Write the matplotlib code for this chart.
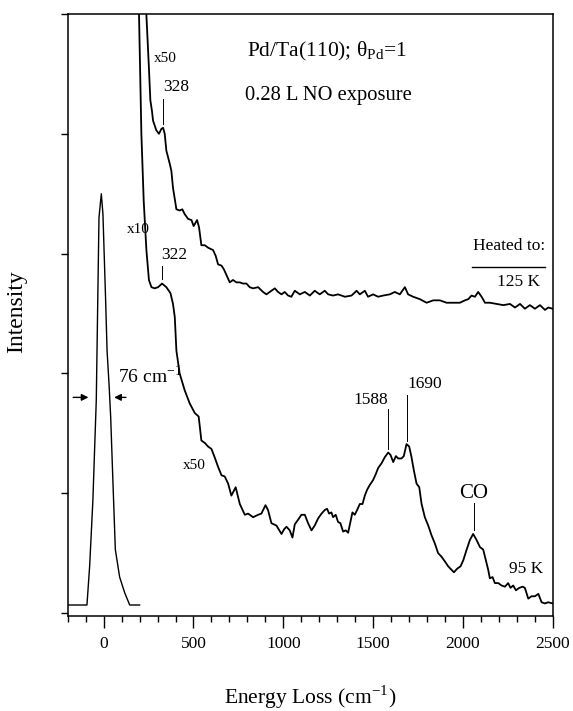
import matplotlib
matplotlib.use('Agg')
import matplotlib.pyplot as plt

plt.rcParams['font.family'] = ['Liberation Serif', 'DejaVu Serif']
plt.rcParams['mathtext.fontset'] = 'stix'

# elastic peak
elastic_x = [-200, -93, -78, -60, -41, -26, -13, -4, 11, 19, 30, 39, 52, 65, 89, 117, 145, 200]
elastic_y = [0.067, 0.067, 0.39, 0.94, 1.78, 3.30, 3.50, 3.33, 2.61, 2.19, 1.91, 1.64, 1.08, 0.53, 0.30, 0.17, 0.067, 0.067]

# 95 K spectrum (x10 then x50)
k95_x = [190, 197, 210, 223, 238, 252, 266, 284, 303, 325, 349, 372, 386, 396, 405, 423, 451, 479, 507, 529,
         544, 563, 581, 600, 618, 637, 656, 674, 693, 711, 735, 748, 758, 786, 804, 832, 860, 878, 901, 915,
         934, 962, 990, 1005, 1018, 1036, 1051, 1064, 1083, 1101, 1120, 1138, 1157, 1175, 1194, 1213, 1231,
         1244, 1255, 1268, 1277, 1292, 1305, 1318, 1333, 1348, 1361, 1374, 1385, 1398, 1411, 1426, 1441, 1454,
         1467, 1482, 1500, 1515, 1528, 1547, 1565, 1584, 1597, 1612, 1627, 1640, 1658, 1671, 1686, 1701, 1714,
         1727, 1742, 1757, 1770, 1788, 1807, 1825, 1844, 1862, 1881, 1900, 1918, 1937, 1950, 1968, 1987, 2002,
         2021, 2039, 2057, 2076, 2095, 2113, 2128, 2141, 2150, 2165, 2178, 2197, 2215, 2234, 2252, 2265, 2280,
         2295, 2314, 2333, 2345, 2364, 2382, 2401, 2420, 2438, 2457, 2475, 2500]
k95_y = [5.5, 4.99, 4.0, 3.44, 3.03, 2.78, 2.72, 2.71, 2.72, 2.75, 2.72, 2.67, 2.58, 2.47, 2.19, 2.0, 1.86, 1.75, 1.67, 1.64,
         1.44, 1.42, 1.39, 1.37, 1.30, 1.22, 1.15, 1.14, 1.08, 0.98, 1.05, 0.97, 0.91, 0.82, 0.83, 0.80, 0.82, 0.83, 0.90, 0.86,
         0.75, 0.73, 0.66, 0.70, 0.72, 0.69, 0.63, 0.74, 0.78, 0.82, 0.82, 0.75, 0.69, 0.73, 0.79, 0.83, 0.86,
         0.87, 0.83, 0.84, 0.80, 0.82, 0.76, 0.75, 0.68, 0.69, 0.67, 0.76, 0.84, 0.82, 0.86, 0.91, 0.91, 0.98,
         1.03, 1.07, 1.11, 1.16, 1.21, 1.25, 1.30, 1.34, 1.32, 1.26, 1.31, 1.29, 1.29, 1.31, 1.41, 1.39, 1.30,
         1.19, 1.08, 1.05, 0.91, 0.80, 0.73, 0.65, 0.58, 0.50, 0.47, 0.43, 0.39, 0.36, 0.34, 0.37, 0.39, 0.44,
         0.53, 0.61, 0.66, 0.61, 0.55, 0.53, 0.44, 0.36, 0.29, 0.30, 0.25, 0.25, 0.23, 0.22, 0.25, 0.21, 0.23,
         0.19, 0.21, 0.22, 0.21, 0.12, 0.14, 0.14, 0.16, 0.09, 0.08, 0.09, 0.08]

# 125 K spectrum (x50)
k125_x = [232, 238, 252, 260, 269, 275, 293, 308, 321, 331, 340, 349, 368, 377, 386, 405, 423, 438, 451, 470,
          489, 501, 520, 531, 544, 563, 581, 594, 609, 624, 637, 656, 669, 684, 702, 720, 739, 758, 776, 795,
          813, 832, 860, 887, 906, 934, 953, 971, 990, 1008, 1027, 1045, 1064, 1092, 1120, 1148, 1175, 1203,
          1231, 1250, 1277, 1305, 1343, 1380, 1408, 1426, 1454, 1472, 1500, 1528, 1556, 1593, 1621, 1649, 1677,
          1695, 1723, 1760, 1798, 1835, 1872, 1909, 1946, 1983, 2011, 2030, 2048, 2067, 2085, 2104, 2123, 2150,
          2188, 2225, 2262, 2290, 2318, 2345, 2373, 2401, 2429, 2457, 2475, 2500]
k125_y = [5.5, 4.99, 4.55, 4.28, 4.19, 4.11, 4.03, 4.0, 4.04, 4.05, 4.0, 3.86, 3.75, 3.69, 3.55, 3.37, 3.36, 3.37, 3.33, 3.29,
          3.28, 3.23, 3.28, 3.22, 3.07, 3.07, 3.05, 3.04, 3.03, 2.98, 2.91, 2.90, 2.87, 2.82, 2.76, 2.78, 2.76, 2.76, 2.75, 2.75,
          2.72, 2.71, 2.72, 2.68, 2.66, 2.69, 2.71, 2.68, 2.66, 2.68, 2.65, 2.64, 2.69, 2.66, 2.68, 2.65, 2.69, 2.66,
          2.69, 2.66, 2.65, 2.66, 2.64, 2.65, 2.69, 2.66, 2.69, 2.64, 2.66, 2.64, 2.65, 2.66, 2.68, 2.66, 2.72,
          2.66, 2.64, 2.62, 2.59, 2.61, 2.61, 2.59, 2.59, 2.59, 2.61, 2.62, 2.65, 2.64, 2.68, 2.64, 2.59, 2.59,
          2.58, 2.57, 2.58, 2.55, 2.58, 2.54, 2.57, 2.54, 2.57, 2.53, 2.55, 2.54]

xticks = [0, 500, 1000, 1500, 2000, 2500]
yticks = [0, 1, 2, 3, 4, 5]

fig = plt.figure(figsize=(5.73, 7.11), dpi=100)
ax = fig.add_axes([0.1182, 0.134, 0.8464, 0.8463])

ax.plot(elastic_x, elastic_y, color='black', lw=1.0)
ax.plot(k95_x, k95_y, color='black', lw=1.3)
ax.plot(k125_x, k125_y, color='black', lw=1.3)

ax.set_xlim(-200, 2500)
ax.set_ylim(-0.0225, 5.0)
ax.set_xticks(xticks)
ax.set_xticks(range(-200, 2501, 100), minor=True)
ax.set_yticks(yticks)
ax.set_yticklabels([])
ax.tick_params(axis='x', which='major', direction='out', length=8.4, width=1, labelsize=12.5, pad=6)
ax.tick_params(axis='x', which='minor', direction='out', length=4.3, width=1)
ax.tick_params(axis='y', direction='out', length=4.8, width=1)
for s in ax.spines.values():
    s.set_linewidth(1.1)

ax.set_xlabel('Energy Loss (cm$^{\\mathregular{-1}}$)', fontsize=15.5, va='baseline')
ax.xaxis.set_label_coords(0.5, -0.146)
ax.set_ylabel('Intensity', fontsize=17)
ax.yaxis.set_label_coords(-0.084, 0.505)

ax.text(797, 4.69, 'Pd/Ta(110); θ$_{\\mathregular{Pd}}$=1', fontsize=15.5, va='center')
ax.text(787, 4.32, '0.28 L NO exposure', fontsize=14.8, va='center')

ax.text(282, 4.63, 'x50', fontsize=11, va='center')
ax.text(330, 4.39, '328', fontsize=12.5, va='center', ha='left')
ax.plot([330, 330], [4.29, 4.08], color='black', lw=0.7)
ax.text(256, 3.2, 'x10', fontsize=11, va='center', ha='right')
ax.text(323, 2.99, '322', fontsize=12.5, va='center', ha='left')
ax.plot([325, 325], [2.9, 2.79], color='black', lw=0.7)
ax.text(440, 1.23, 'x50', fontsize=11, va='center')

ax.text(78, 1.98, '76 cm$^{\\mathregular{-1}}$', fontsize=14, va='center')
ax.annotate('', xy=(-69, 1.8), xytext=(-185, 1.8),
            arrowprops=dict(arrowstyle='-|>', color='black', lw=1, mutation_scale=10))
ax.annotate('', xy=(43, 1.8), xytext=(140, 1.8),
            arrowprops=dict(arrowstyle='-|>', color='black', lw=1, mutation_scale=10))

ax.text(1582, 1.78, '1588', fontsize=12.5, va='center', ha='right')
ax.plot([1584, 1584], [1.70, 1.37], color='black', lw=0.7)
ax.text(1694, 1.91, '1690', fontsize=12.5, va='center', ha='left')
ax.plot([1686, 1686], [1.82, 1.44], color='black', lw=0.7)
ax.text(2061, 1.0, 'CO', fontsize=15, va='center', ha='center')
ax.plot([2061, 2061], [0.92, 0.69], color='black', lw=0.7)
ax.text(2354, 0.37, '95 K', fontsize=12.5, va='center', ha='center')

ax.text(2256, 3.06, 'Heated to:', fontsize=12.5, va='center', ha='center')
ax.plot([2048, 2457], [2.89, 2.89], color='black', lw=1)
ax.text(2309, 2.76, '125 K', fontsize=12.5, va='center', ha='center')

fig.savefig('out.png', dpi=100)
